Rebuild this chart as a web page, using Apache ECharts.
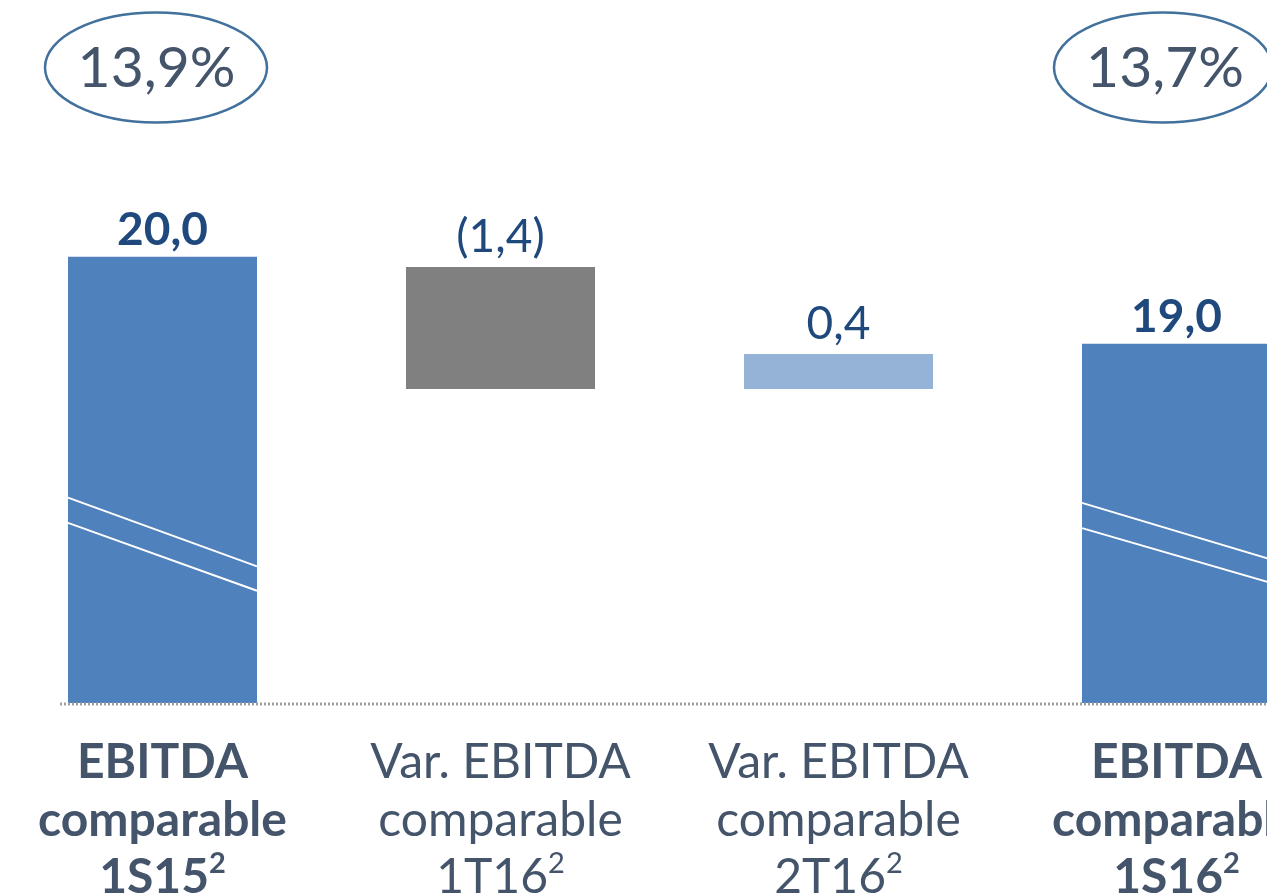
<!DOCTYPE html>
<html><head><meta charset="utf-8">
<script src="https://cdn.jsdelivr.net/npm/echarts@6/dist/echarts.min.js"></script>
<style>html,body{margin:0;padding:0;background:#fff}#c{width:1267px;height:895px}</style>
</head><body><div id="c"></div>
<script>
// ---- data ----
const categories = [
  ['EBITDA', 'comparable', '1S15'],
  ['Var. EBITDA', 'comparable', '1T16'],
  ['Var. EBITDA', 'comparable', '2T16'],
  ['EBITDA', 'comparable', '1S16']
];
const footnoteMarks = ['2', '2', '2', '2'];
const isTotal = [true, false, false, true];
const baseValues = [0, 18.48, 18.48, 0];
const barValues = [20.0, 1.4, 0.4, 19.0];
const valueLabels = ['20,0', '(1,4)', '0,4', '19,0'];
const marginLabels = ['13,9%', '13,7%'];
// axis-break decoration lines: [category index, value at left edge, value at right edge]
const breakLines = [[0, 17.23, 16.44], [0, 16.94, 16.16], [3, 17.17, 16.52], [3, 16.88, 16.25]];
const axisMin = 14.87, axisMax = 22.95;

// ---- styles ----
const barColors = ['#4F81BD', '#808080', '#95B3D7', '#4F81BD'];
const FONT = 'Lato, "Open Sans", sans-serif';
const TEXT = '#44546A';
const VAL = '#1F497D';
const BAR_W = 189;

const chart = echarts.init(document.getElementById('c'), null, {renderer: 'canvas'});

const option = {
  animation: false,
  backgroundColor: '#fff',
  grid: {left: -6.5, right: -78.5, top: 0, bottom: 192, containLabel: false, outerBoundsMode: 'none'},
  xAxis: {
    type: 'category',
    data: categories.map(c => c.join(' ')),
    axisLine: {show: false},
    axisTick: {show: false},
    axisLabel: {
      interval: 0,
      margin: 31,
      formatter: (v, i) => {
        const tag = isTotal[i] ? 'b' : 'r';
        const lines = categories[i].map(s => '{' + tag + '|' + s + '}');
        lines[lines.length - 1] += '{' + tag + 's|' + footnoteMarks[i] + '}';
        return lines.join('\n');
      },
      rich: {
        b: {fontFamily: FONT, fontWeight: 'bold', fontSize: 48, lineHeight: 57.5, color: TEXT},
        r: {fontFamily: FONT, fontWeight: 'normal', fontSize: 48, lineHeight: 57.5, color: TEXT},
        bs: {fontFamily: FONT, fontWeight: 'bold', fontSize: 29, lineHeight: 40, verticalAlign: 'top', color: TEXT},
        rs: {fontFamily: FONT, fontWeight: 'normal', fontSize: 29, lineHeight: 40, verticalAlign: 'top', color: TEXT}
      }
    }
  },
  yAxis: {
    type: 'value', min: axisMin, max: axisMax,
    show: false, splitLine: {show: false}
  },
  series: [
    {
      type: 'bar', stack: 'w', barWidth: BAR_W, silent: true,
      itemStyle: {color: 'transparent'},
      data: baseValues
    },
    {
      type: 'bar', stack: 'w', barWidth: BAR_W,
      data: barValues.map((v, i) => ({
        value: v,
        itemStyle: {color: barColors[i]},
        label: {
          show: true, position: 'top',
          distance: isTotal[i] ? 3 : 7,
          formatter: valueLabels[i],
          fontFamily: FONT, fontSize: 46,
          fontWeight: isTotal[i] ? 'bold' : 'normal',
          color: VAL
        }
      }))
    },
    {
      type: 'custom', silent: true, z: 10,
      data: breakLines,
      renderItem: (params, api) => {
        const idx = api.value(0);
        const pL = api.coord([idx, api.value(1)]);
        const pR = api.coord([idx, api.value(2)]);
        const half = BAR_W / 2;
        return {
          type: 'line',
          shape: {x1: pL[0] - half, y1: pL[1], x2: pR[0] + half, y2: pR[1]},
          style: {stroke: '#ffffff', lineWidth: 2}
        };
      }
    }
  ]
};
chart.setOption(option);

const yBase = chart.convertToPixel({yAxisIndex: 0}, axisMin);
chart.setOption({
  graphic: [
    {type: 'line', z: 20, shape: {x1: 60, y1: yBase + 1, x2: 1267, y2: yBase + 1},
     style: {stroke: '#A0A0A0', lineWidth: 3, lineDash: [2, 2]}},
    {type: 'ellipse', shape: {cx: 156, cy: 67.5, rx: 111, ry: 55}, style: {fill: 'none', stroke: '#41719C', lineWidth: 2.5}},
    {type: 'ellipse', shape: {cx: 1163, cy: 67.5, rx: 109, ry: 55}, style: {fill: 'none', stroke: '#41719C', lineWidth: 2.5}},
    {type: 'text', x: 156.5, y: 69, style: {text: marginLabels[0], fontFamily: FONT, fontSize: 57, fill: TEXT, align: 'center', verticalAlign: 'middle'}},
    {type: 'text', x: 1165, y: 69, style: {text: marginLabels[1], fontFamily: FONT, fontSize: 57, fill: TEXT, align: 'center', verticalAlign: 'middle'}}
  ]
});
</script></body></html>
